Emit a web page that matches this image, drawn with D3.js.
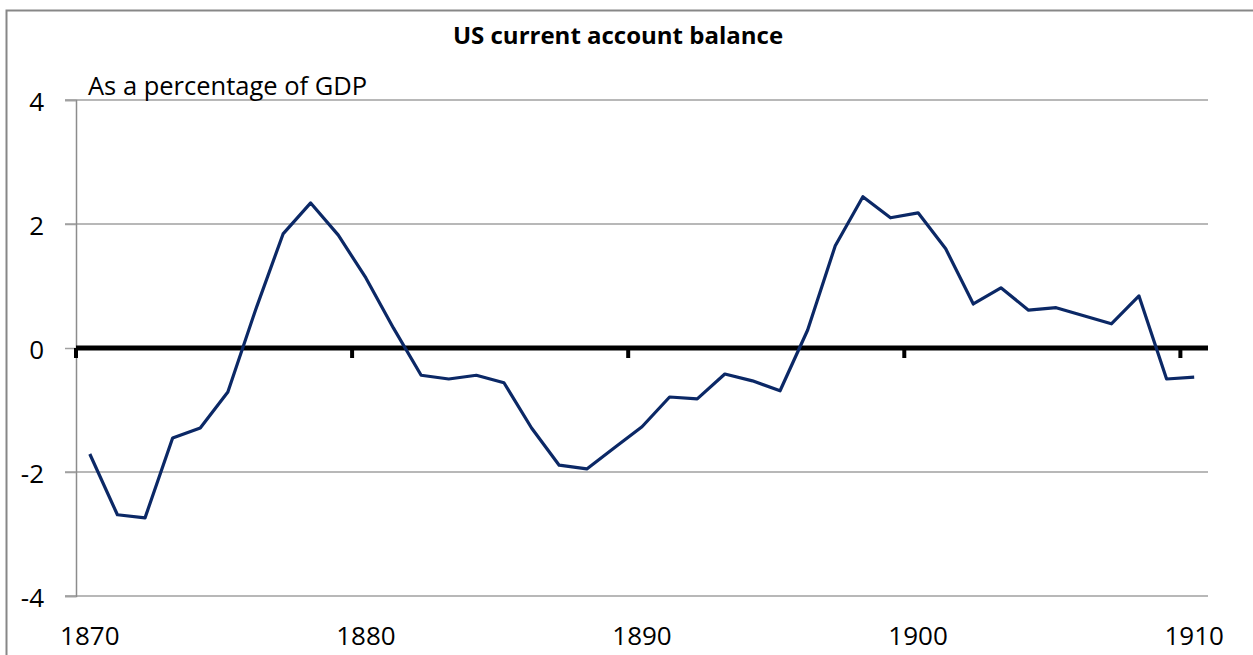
<!DOCTYPE html>
<html>
<head>
<meta charset="utf-8">
<script src="https://cdn.jsdelivr.net/npm/d3@7"></script>
<style>
  body { margin: 0; background: #fff; }
  svg { display: block; font-family: "Open Sans", sans-serif; }
</style>
</head>
<body>
<div id="chart"></div>
<script>
var w = 1253;
var h = 655;

// data (per cent of GDP)
const years = d3.range(1870, 1911);
const balance = [
    -1.71, -2.69, -2.74, -1.45, -1.29, -0.71, 0.61, 1.84, 2.34, 1.82,
    1.13, 0.32, -0.44, -0.50, -0.44, -0.56, -1.29, -1.89, -1.95, -1.61,
    -1.27, -0.79, -0.82, -0.42, -0.53, -0.69, 0.29, 1.65, 2.44, 2.10,
    2.18, 1.60, 0.71, 0.97, 0.61, 0.65, 0.52, 0.39, 0.84, -0.50,
    -0.47
];
const yTicks = [-4, -2, 0, 2, 4];
const xLabels = [1870, 1880, 1890, 1900, 1910];

const margin = {left: 76, right: 45, top: 100, bottom: 59};

const x = d3.scaleLinear()
    .domain([1870, 1911])
    .range([margin.left, w - margin.right]);

const y = d3.scaleLinear()
    .domain([-4, 4])
    .range([h - margin.bottom, margin.top]);

const svg = d3.select("#chart").append("svg")
    .attr("width", w)
    .attr("height", h);

// outer chart frame
svg.append("rect")
    .attr("x", 6.5)
    .attr("y", 10.5)
    .attr("width", w + 10)
    .attr("height", h + 10)
    .attr("fill", "none")
    .attr("stroke", "#878787")
    .attr("stroke-width", 2);

// gridlines (with the small tick stub to the left of the axis)
svg.append("g")
    .selectAll("line")
    .data(yTicks.filter(d => d !== 0))
    .enter()
    .append("line")
    .attr("x1", margin.left - 11)
    .attr("x2", w - margin.right)
    .attr("y1", d => y(d))
    .attr("y2", d => y(d))
    .attr("stroke", "#a0a0a0")
    .attr("stroke-width", 1.5);

// y axis
const yAxis = svg.append("g")
    .attr("transform", `translate(${margin.left},0)`)
    .call(d3.axisLeft(y).tickValues(yTicks).tickSize(11).tickPadding(21).tickFormat(d => String(d)));

yAxis.select(".domain").attr("stroke", "#8c8c8c").attr("stroke-width", 1.5);
yAxis.selectAll(".tick line").attr("stroke", "#a0a0a0").attr("stroke-width", 1.5);
yAxis.selectAll(".tick text")
    .attr("font-size", 26)
    .attr("font-family", "Open Sans, sans-serif")
    .attr("fill", "#000")
    .attr("dy", "0.4em");

// zero line with tick marks between categories
svg.append("line")
    .attr("x1", x(1870))
    .attr("x2", x(1911))
    .attr("y1", y(0))
    .attr("y2", y(0))
    .attr("stroke", "#000")
    .attr("stroke-width", 5);

svg.append("g")
    .selectAll("line")
    .data(xLabels)
    .enter()
    .append("line")
    .attr("x1", d => x(d))
    .attr("x2", d => x(d))
    .attr("y1", y(0))
    .attr("y2", y(0) + 10)
    .attr("stroke", "#000")
    .attr("stroke-width", 4);

// category labels, centred under their year
svg.append("g")
    .selectAll("text")
    .data(xLabels)
    .enter()
    .append("text")
    .attr("x", d => x(d + 0.5))
    .attr("y", 645)
    .attr("text-anchor", "middle")
    .attr("font-size", 26)
    .attr("fill", "#000")
    .text(d => d);

// the series
const line = d3.line()
    .x((d, i) => x(years[i] + 0.5))
    .y(d => y(d));

svg.append("path")
    .datum(balance)
    .attr("d", line)
    .attr("fill", "none")
    .attr("stroke", "#0b2866")
    .attr("stroke-width", 3.2)
    .attr("stroke-linejoin", "round");

// titles
svg.append("text")
    .attr("x", 618)
    .attr("y", 44)
    .attr("text-anchor", "middle")
    .attr("font-size", 24)
    .attr("font-weight", "bold")
    .attr("fill", "#000")
    .text("US current account balance");

svg.append("text")
    .attr("x", 88)
    .attr("y", 95)
    .attr("font-size", 25.5)
    .attr("fill", "#000")
    .text("As a percentage of GDP");
</script>
</body>
</html>
